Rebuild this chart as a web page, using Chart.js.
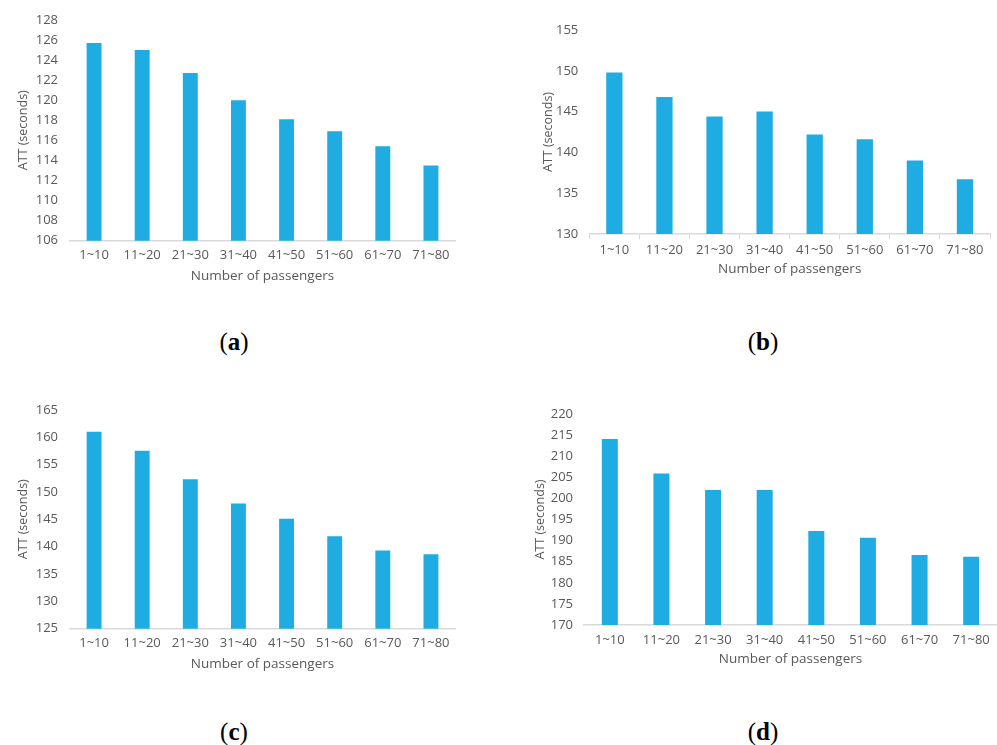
<!DOCTYPE html>
<html>
<head>
<meta charset="utf-8">
<script src="https://cdn.jsdelivr.net/npm/chart.js@4.4.1/dist/chart.umd.min.js"></script>
<style>
  body { margin: 0; background: #fff; }
  #wrap { position: relative; width: 997px; height: 745px; overflow: hidden; }
  .panel { position: absolute; }
  .cap { position: absolute; font-family: "Liberation Serif", "DejaVu Serif", serif; font-size: 25px; color: #000; transform: translate(-50%, -50%); white-space: nowrap; }
  .cap b { font-weight: bold; }
</style>
</head>
<body>
<div id="wrap">
  <div class="panel" style="left:0;top:0;width:480px;height:300px"><canvas id="chartA"></canvas></div>
  <div class="panel" style="left:500px;top:0;width:497px;height:300px"><canvas id="chartB"></canvas></div>
  <div class="panel" style="left:0;top:390px;width:480px;height:300px"><canvas id="chartC"></canvas></div>
  <div class="panel" style="left:500px;top:390px;width:497px;height:300px"><canvas id="chartD"></canvas></div>
  <div class="cap" style="left:234px;top:342px">(<b>a</b>)</div>
  <div class="cap" style="left:763px;top:342px">(<b>b</b>)</div>
  <div class="cap" style="left:234px;top:732px">(<b>c</b>)</div>
  <div class="cap" style="left:763px;top:732px">(<b>d</b>)</div>
</div>
<script>
// passenger groups on the x axis
const categories = ['1~10', '11~20', '21~30', '31~40', '41~50', '51~60', '61~70', '71~80'];

// average travel time (seconds)
const attA = [125.7, 125.0, 122.7, 120.0, 118.1, 116.9, 115.4, 113.5];
const attB = [149.8, 146.8, 144.4, 145.0, 142.2, 141.6, 139.0, 136.7];
const attC = [161.0, 157.5, 152.3, 147.9, 145.1, 141.9, 139.3, 138.6];
const attD = [214.1, 205.9, 202.0, 202.0, 192.3, 190.7, 186.6, 186.2];

// y axis [min, max, step]
const yRangeA = [106, 128, 2];
const yRangeB = [130, 155, 5];
const yRangeC = [125, 165, 5];
const yRangeD = [170, 220, 5];

const xTitle = 'Number of passengers';
const yTitle = 'ATT (seconds)';

const barColor = '#1EACE2';
const textColor = '#595959';
const axisColor = '#d9d9d9';
const fontFamily = '"Open Sans", "DejaVu Sans", sans-serif';

// box: plot area inside the canvas, plus where the titles sit
function makeChart(id, values, range, box) {
  const ctx = document.getElementById(id).getContext('2d');
  return new Chart(ctx, {
    type: 'bar',
    data: {
      labels: categories,
      datasets: [{
        data: values,
        backgroundColor: barColor,
        borderWidth: 0,
        barPercentage: 1,
        categoryPercentage: box.barFrac
      }]
    },
    options: {
      responsive: true,
      maintainAspectRatio: false,
      animation: false,
      events: [],
      layout: {
        padding: { top: box.top, right: box.right, left: 0, bottom: 0 }
      },
      plugins: {
        legend: { display: false },
        tooltip: { enabled: false }
      },
      scales: {
        x: {
          grid: {
            display: box.ticks,
            drawOnChartArea: false,
            drawTicks: box.ticks,
            tickLength: 5,
            color: axisColor
          },
          border: { display: true, color: axisColor, width: 1.5 },
          ticks: {
            color: textColor,
            padding: box.xPad,
            maxRotation: 0,
            autoSkip: false,
            font: { family: fontFamily, size: 13 }
          },
          title: {
            display: true,
            text: xTitle,
            color: textColor,
            padding: { top: 0, bottom: box.xTitlePad },
            font: { family: fontFamily, size: 13.5 }
          },
          afterFit: (scale) => { scale.height = box.xHeight; }
        },
        y: {
          min: range[0],
          max: range[1],
          grid: { display: false, drawTicks: false },
          border: { display: false },
          ticks: {
            stepSize: range[2],
            color: textColor,
            padding: box.yPad,
            font: { family: fontFamily, size: 13 }
          },
          title: {
            display: true,
            text: yTitle,
            color: textColor,
            padding: { top: box.yTitlePad, bottom: 0 },
            font: { family: fontFamily, size: 12.5 }
          },
          afterFit: (scale) => { scale.width = box.left; }
        }
      }
    }
  });
}

makeChart('chartA', attA, yRangeA, {
  left: 70, right: 25, top: 17.3, xHeight: 59.3,
  xPad: 7, xTitlePad: 15.5, yPad: 12, yTitlePad: 15.5, barFrac: 0.31, ticks: false
});
makeChart('chartB', attB, yRangeB, {
  left: 89.3, right: 7, top: 30, xHeight: 66,
  xPad: 3, xTitlePad: 22.5, yPad: 11, yTitlePad: 40.5, barFrac: 0.325, ticks: true
});
makeChart('chartC', attC, yRangeC, {
  left: 70, right: 25, top: 16, xHeight: 61.3,
  xPad: 7, xTitlePad: 17.5, yPad: 12, yTitlePad: 15.5, barFrac: 0.31, ticks: false
});
makeChart('chartD', attD, yRangeD, {
  left: 84, right: 0, top: 24, xHeight: 65,
  xPad: 7, xTitlePad: 22.5, yPad: 11, yTitlePad: 32.5, barFrac: 0.31, ticks: false
});
</script>
</body>
</html>
